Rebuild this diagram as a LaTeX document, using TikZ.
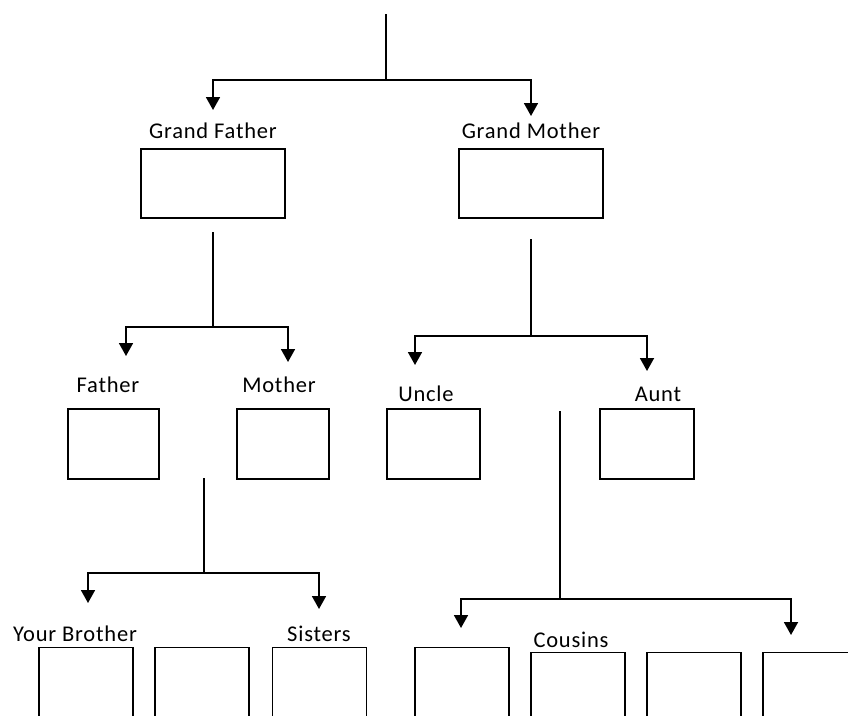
\documentclass[tikz,border=0pt]{standalone}
\usepackage{fontspec}
\setmainfont{Carlito}[LetterSpace=3.5]
\usetikzlibrary{arrows.meta}
\tikzset{
  box/.style={draw=black, line width=1.3pt, fill=white, minimum width=#1, minimum height=70, inner sep=0pt},
  tallbox/.style={draw=black, line width=1.3pt, minimum width=94, minimum height=100, inner sep=0pt, anchor=north},
  lbl/.style={font=\fontsize{22.5}{26}\selectfont, inner sep=0pt, anchor=base},
  conn/.style={line width=1.8pt, line cap=rect},
  arr/.style={line width=1.8pt, -{Triangle[width=14pt,length=13pt]}}
}
\begin{document}
\begin{tikzpicture}[x=1pt,y=-1pt]
\useasboundingbox (0,0) rectangle (848,715);
\clip (0,0) rectangle (848,715);

% boxes
\node[box=144, minimum height=69] (gfbox) at (213,183.5) {};
\node[box=144, minimum height=69] (gmbox) at (531,183.5) {};
\node[box=91] (fbox) at (113.5,444) {};
\node[box=92] (mbox) at (283,444) {};
\node[box=93] (ubox) at (433.5,444) {};
\node[box=94] (abox) at (647,444) {};
\node[tallbox] (b1) at (86,647) {};
\node[tallbox] (b2) at (202,647) {};
\node[tallbox] (b3) at (319.5,647) {};
\node[tallbox] (c1) at (462,647) {};
\node[tallbox] (c2) at (578,652) {};
\node[tallbox] (c3) at (694,652) {};
\node[tallbox] (c4) at (810,652) {};

% labels
\node[lbl] (gf) at (213,138) {Grand Father};
\node[lbl] (gm) at (531,138) {Grand Mother};
\node[lbl] (fa) at (108,392) {Father};
\node[lbl] (mo) at (279,392) {Mother};
\node[lbl] (un) at (426,401) {Uncle};
\node[lbl] (au) at (658,401) {Aunt};
\node[lbl] (yb) at (75,641) {Your Brother};
\node[lbl] (si) at (319,641) {Sisters};
\node[lbl] (co) at (571,647) {Cousins};

% coordinates
\coordinate (top) at (386,15);
\coordinate (j0) at (386,80);
\coordinate (t1) at (213,110);
\coordinate (t2) at (531,116);

\coordinate (s1) at (213,233);
\coordinate (j1) at (213,327);
\coordinate (t3) at (126,356);
\coordinate (t4) at (288,362);

\coordinate (s2) at (531,240);
\coordinate (j2) at (531,336);
\coordinate (t5) at (415,365);
\coordinate (t6) at (647,371);

\coordinate (s3) at (204,479);
\coordinate (j3) at (204,573);
\coordinate (t7) at (88,603);
\coordinate (t8) at (319,609);

\coordinate (s4) at (560,412);
\coordinate (j4) at (560,599);
\coordinate (t9) at (461,628);
\coordinate (t10) at (791,635);

% connectors
\draw[conn] (top) -- (j0);
\draw[arr] (j0) -| (t1);
\draw[arr] (j0) -| (t2);

\draw[conn] (s1) -- (j1);
\draw[arr] (j1) -| (t3);
\draw[arr] (j1) -| (t4);

\draw[conn] (s2) -- (j2);
\draw[arr] (j2) -| (t5);
\draw[arr] (j2) -| (t6);

\draw[conn] (s3) -- (j3);
\draw[arr] (j3) -| (t7);
\draw[arr] (j3) -| (t8);

\draw[conn] (s4) -- (j4);
\draw[arr] (j4) -| (t9);
\draw[arr] (j4) -| (t10);
\end{tikzpicture}
\end{document}
